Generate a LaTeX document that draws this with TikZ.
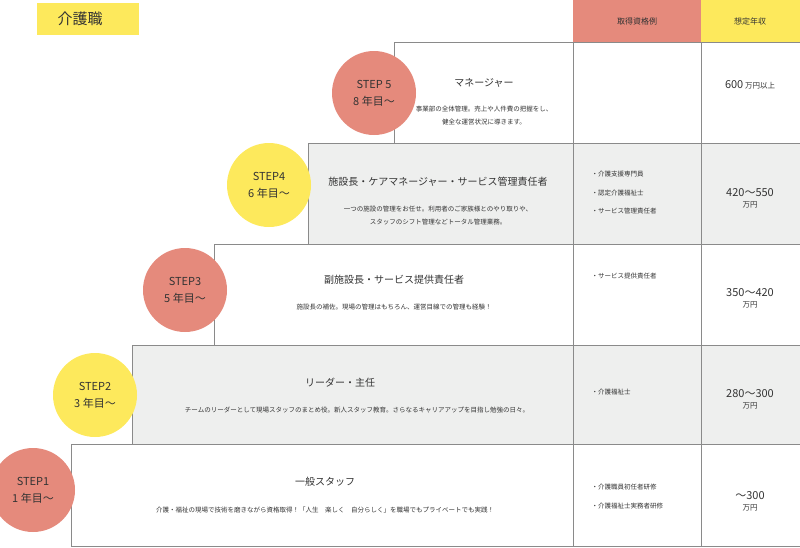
\documentclass[tikz,border=0pt]{standalone}
\usepackage{fontspec}
\setmainfont{Noto Sans CJK JP}
\definecolor{stepred}{HTML}{E58A7C}
\definecolor{stepyellow}{HTML}{FDE95C}
\definecolor{rowgray}{HTML}{EEEFEE}
\definecolor{linegray}{HTML}{8A8A8A}
\definecolor{txt}{HTML}{333333}
\tikzset{
  stepdot/.style={circle,minimum size=84pt,inner sep=0pt,align=center,font=\fontsize{11}{17}\selectfont,text=txt},
  job/.style={font=\fontsize{10}{12}\selectfont,text=txt},
  desc/.style={font=\fontsize{6.5}{13}\selectfont,text=txt,align=center},
  qual/.style={anchor=west,font=\fontsize{6.5}{8}\selectfont,text=txt},
  pay/.style={font=\fontsize{11}{13}\selectfont,text=txt,align=center},
  row/.style={draw=linegray,line width=0.6pt}
}
\begin{document}
\begin{tikzpicture}[x=1pt,y=-1pt]
\useasboundingbox (0,0) rectangle (800,547);

% header
\fill[stepyellow] (37,3) rectangle (139,35);
\node[font=\fontsize{15}{17}\selectfont,text=txt] (title) at (80,19) {介護職};
\fill[stepred] (573,0) rectangle (701,42);
\fill[stepyellow] (701,0) rectangle (800,42);
\node[font=\fontsize{8}{10}\selectfont,text=txt] (hq) at (637,21) {取得資格例};
\node[font=\fontsize{8}{10}\selectfont,text=txt] (hp) at (750,21) {想定年収};

% rows
\filldraw[row,fill=white] (394,42) rectangle (800,143);
\filldraw[row,fill=rowgray] (308,143) rectangle (800,244);
\filldraw[row,fill=white] (214,244) rectangle (800,345);
\filldraw[row,fill=rowgray] (132,345) rectangle (800,444);
\filldraw[row,fill=white] (71,444) rectangle (800,546);
\draw[row] (573,42) -- (573,546);
\draw[row] (701,42) -- (701,546);

% steps
\node[stepdot,fill=stepred] (s5) at (374,93) {STEP 5\\8 年目～};
\node[stepdot,fill=stepyellow] (s4) at (269,185) {STEP4\\6 年目～};
\node[stepdot,fill=stepred] (s3) at (185,290) {STEP3\\5 年目～};
\node[stepdot,fill=stepyellow] (s2) at (95,395) {STEP2\\3 年目～};
\node[stepdot,fill=stepred] (s1) at (33,490) {STEP1\\1 年目～};

% jobs
\node[job] (j5) at (484,83) {マネージャー};
\node[desc] (d5) at (484,116) {事業部の全体管理。売上や人件費の把握をし、\\健全な運営状況に導きます。};
\node[job] (j4) at (438,182) {施設長・ケアマネージャー・サービス管理責任者};
\node[desc] (d4) at (438,216) {一つの施設の管理をお任せ。利用者のご家族様とのやり取りや、\\スタッフのシフト管理などトータル管理業務。};
\node[job] (j3) at (394,280) {副施設長・サービス提供責任者};
\node[desc] (d3) at (394,307) {施設長の補佐。現場の管理はもちろん、運営目線での管理も経験！};
\node[job] (j2) at (340,383) {リーダー・主任};
\node[desc] (d2) at (357,410) {チームのリーダーとして現場スタッフのまとめ役。新人スタッフ教育。さらなるキャリアアップを目指し勉強の日々。};
\node[job] (j1) at (325,482) {一般スタッフ};
\node[desc] (d1) at (325,510) {介護・福祉の現場で技術を磨きながら資格取得！「人生\quad 楽しく\quad 自分らしく」を職場でもプライベートでも実践！};

% qualifications
\node[qual] (q4a) at (588,174) {・介護支援専門員};
\node[qual] (q4b) at (588,193) {・認定介護福祉士};
\node[qual] (q4c) at (588,211) {・サービス管理責任者};
\node[qual] (q3) at (588,276) {・サービス提供責任者};
\node[qual] (q2) at (588,392) {・介護福祉士};
\node[qual] (q1a) at (588,487) {・介護職員初任者研修};
\node[qual] (q1b) at (588,506) {・介護福祉士実務者研修};

% pay
\node[pay] (p5) at (750,85) {600{\fontsize{7.5}{9}\selectfont\ 万円以上}};
\node[pay] (p4) at (750,198) {420～550\\[-2pt]{\fontsize{7.5}{9}\selectfont 万円}};
\node[pay] (p3) at (750,298) {350～420\\[-2pt]{\fontsize{7.5}{9}\selectfont 万円}};
\node[pay] (p2) at (750,399) {280～300\\[-2pt]{\fontsize{7.5}{9}\selectfont 万円}};
\node[pay] (p1) at (750,501) {～300\\[-2pt]{\fontsize{7.5}{9}\selectfont 万円}};
\end{tikzpicture}
\end{document}
